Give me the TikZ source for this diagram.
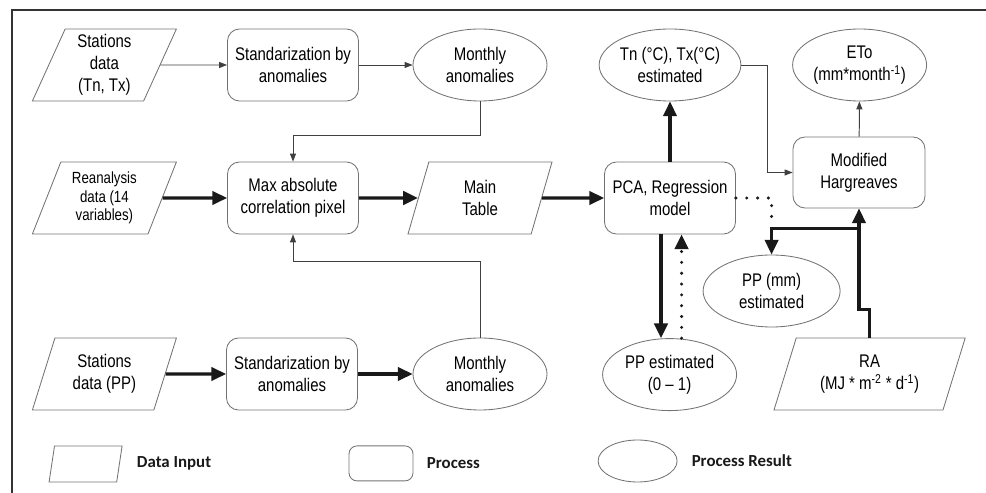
\documentclass[tikz,border=0pt]{standalone}
\usepackage{fontspec}
\setmainfont{Liberation Sans}[FakeStretch=0.82]
\newfontfamily\legfont{Carlito}
\usetikzlibrary{shapes.geometric,arrows.meta}
\begin{document}
\begin{tikzpicture}[
    box/.style={draw=black!55,line width=0.6pt,align=center,text=black,font=\fontsize{13}{15.6}\selectfont},
    proc/.style={box,rounded corners=0.3cm,minimum width=3.275cm,minimum height=1.8cm},
    res/.style={box,ellipse,inner sep=0pt,minimum width=3.35cm,minimum height=1.8cm},
    datin/.style={box,trapezium,trapezium left angle=65,trapezium right angle=115,trapezium stretches body,inner xsep=0pt,minimum height=1.8cm,minimum width=3.6cm},
    thinln/.style={draw=black!75,line width=0.7pt,-{Triangle[length=5.7pt,width=4.3pt]}},
    thickln/.style={draw=black!90,line width=2.3pt,-{Triangle[length=10.5pt,width=9.5pt]}},
    dotln/.style={draw=black!90,line width=2.4pt,dash pattern=on 0pt off 7.7pt,line cap=round},
    leg/.style={anchor=west,font=\legfont\bfseries\fontsize{12}{14}\selectfont,text=black!90}]
    \useasboundingbox (0,0) rectangle (24.65,12.325);
    \draw[line width=1.4pt,black!80] (0.3,0) -- (0.3,12.075) -- (24.65,12.075);
    % top row
    \node[datin] (sta) at (2.61,10.7) {Stations\\data\\(Tn, Tx)};
    \node[proc] (stdt) at (7.325,10.7) {Standarization by\\anomalies};
    \node[res] (anot) at (12.0,10.7) {Monthly\\anomalies};
    \node[res] (tnx) at (16.75,10.7) {Tn (°C), Tx(°C)\\estimated};
    \node[res] (eto) at (21.49,10.7) {ETo\\(mm*month\textsuperscript{-1})};
    % middle row
    \node[datin,font=\fontsize{11.5}{13}\selectfont] (rean) at (2.61,7.375) {Reanalysis\\data (14\\variables)};
    \node[proc] (maxc) at (7.325,7.375) {Max absolute\\correlation pixel};
    \node[datin] (mtab) at (12.0,7.375) {Main\\Table};
    \node[proc] (pca) at (16.75,7.375) {PCA, Regression\\model};
    \node[proc,minimum width=3.3cm,minimum height=1.775cm] (hsm) at (21.475,8.0125) {Modified\\Hargreaves};
    \node[res,minimum width=3.425cm] (ppmm) at (19.29,5.05) {PP (mm)\\estimated};
    % bottom row
    \node[datin] (stp) at (2.61,2.975) {Stations\\data (PP)};
    \node[proc] (stdp) at (7.3,2.975) {Standarization by\\anomalies};
    \node[res] (anop) at (12.0,2.975) {Monthly\\anomalies};
    \node[res] (ppest) at (16.74,2.96) {PP estimated\\(0 -- 1)};
    \node[datin,minimum width=4.78cm] (ra) at (21.74,2.975) {RA\\(MJ * m\textsuperscript{-2} * d\textsuperscript{-1})};
    % legend
    \node[datin,minimum width=1.825cm,minimum height=0.9cm,trapezium left angle=60,trapezium right angle=120] (lgd) at (2.14,0.725) {};
    \node[leg] (lgdt) at (3.3,0.74) {Data Input};
    \node[proc,minimum width=1.6cm,minimum height=0.875cm,rounded corners=0.2cm] (lgp) at (9.525,0.74) {};
    \node[leg] (lgpt) at (10.55,0.74) {Process};
    \node[res,minimum width=1.975cm,minimum height=1.05cm] (lgr) at (15.94,0.8) {};
    \node[leg] (lgrt) at (17.17,0.8) {Process Result};
    % connectors
    \draw[thinln] (sta) -- (stdt);
    \draw[thinln] (stdt) -- (anot);
    \draw[thinln] (anot.south) -- ++(0,-0.85) -| (maxc.north);
    \draw[thinln] (anop.north) -- ++(0,1.9) -| (maxc.south);
    \draw[thickln] (rean) -- (maxc);
    \draw[thickln] (maxc) -- (mtab);
    \draw[thickln] (mtab) -- (pca);
    \draw[thickln] (pca) -- (tnx);
    \draw[thickln] (stp) -- (stdp);
    \draw[thickln] (stdp) -- (anop);
    \draw[thinln] (tnx.east) -- ++(0.65,0) |- (hsm.west);
    \draw[thinln] (hsm) -- (eto);
    \draw[thickln] ([xshift=-0.225cm]pca.south) -- ([xshift=-0.225cm]pca.south |- ppest.north);
    \draw[dotln,-{Triangle[length=10.5pt,width=9.5pt]}] ([xshift=0.3cm]ppest.north) -- ([xshift=0.3cm]ppest.north |- pca.south);
    \coordinate (dotend) at ([yshift=0.9cm]ppmm.north);
    \draw[dotln] (pca.east) -| (dotend);
    \coordinate (jn) at ([yshift=-0.5cm]hsm.south);
    \draw[thickln] (ra.north) -- ++(0,0.7) -| (hsm.south);
    \draw[thickln] (jn) -| (ppmm.north);
\end{tikzpicture}
\end{document}
